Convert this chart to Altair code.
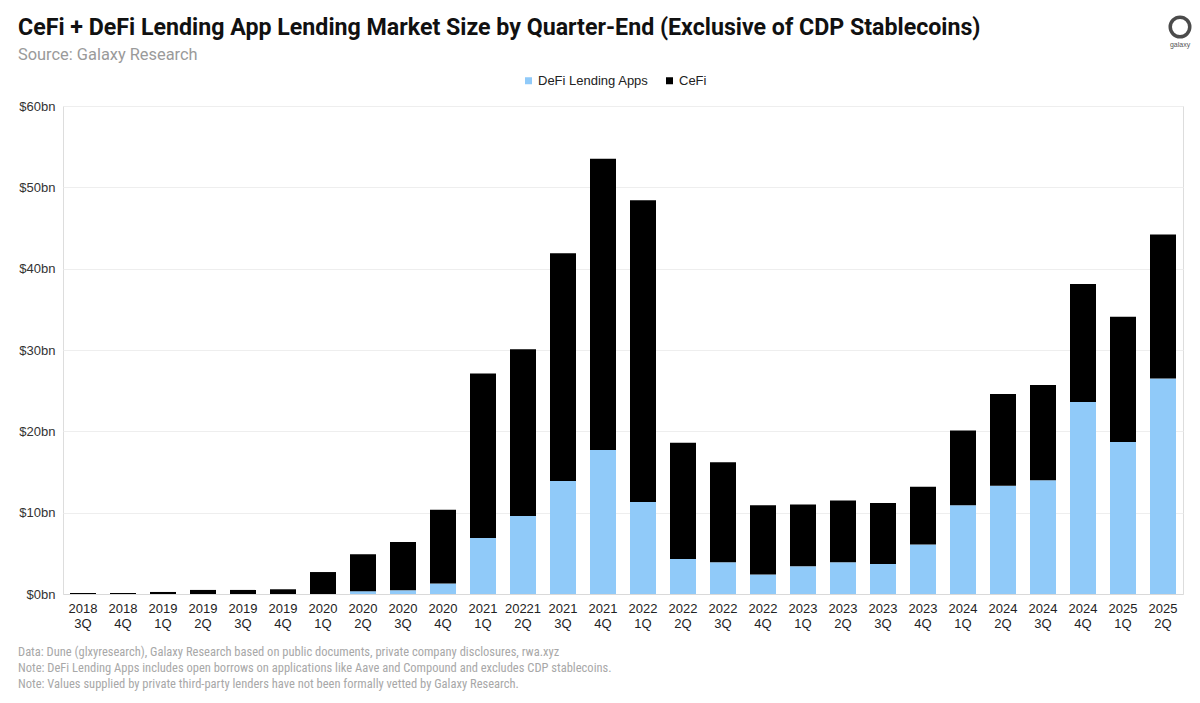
import altair as alt
import pandas as pd

# ---- data ----
quarters = [
    "2018 3Q", "2018 4Q", "2019 1Q", "2019 2Q", "2019 3Q", "2019 4Q",
    "2020 1Q", "2020 2Q", "2020 3Q", "2020 4Q", "2021 1Q", "20221 2Q",
    "2021 3Q", "2021 4Q", "2022 1Q", "2022 2Q", "2022 3Q", "2022 4Q",
    "2023 1Q", "2023 2Q", "2023 3Q", "2023 4Q", "2024 1Q", "2024 2Q",
    "2024 3Q", "2024 4Q", "2025 1Q", "2025 2Q",
]
defi = [
    0.0, 0.0, 0.0, 0.0, 0.0, 0.0,
    0.0, 0.35, 0.45, 1.3, 6.9, 9.6,
    13.9, 17.7, 11.3, 4.3, 3.9, 2.4,
    3.4, 3.9, 3.7, 6.1, 10.9, 13.3,
    14.0, 23.6, 18.7, 26.5,
]
cefi = [
    0.12, 0.12, 0.25, 0.5, 0.5, 0.58,
    2.7, 4.55, 5.95, 9.05, 20.2, 20.5,
    28.0, 35.8, 37.1, 14.3, 12.3, 8.5,
    7.6, 7.6, 7.5, 7.1, 9.2, 11.3,
    11.7, 14.5, 15.4, 17.7,
]
series_names = ["DeFi Lending Apps", "CeFi"]
series_colors = ["#90CAF9", "#000000"]
y_ticks = [0, 10, 20, 30, 40, 50, 60]

title_text = "CeFi + DeFi Lending App Lending Market Size by Quarter-End (Exclusive of CDP Stablecoins)"
subtitle_text = "Source: Galaxy Research"
footer_lines = [
    "Data: Dune (glxyresearch), Galaxy Research based on public documents, private company disclosures, rwa.xyz",
    "Note: DeFi Lending Apps includes open borrows on applications like Aave and Compound and excludes CDP stablecoins.",
    "Note: Values supplied by private third-party lenders have not been formally vetted  by Galaxy Research.",
]

rows = []
for i, q in enumerate(quarters):
    rows.append({"quarter": q, "series": series_names[0], "value": defi[i], "order": 0})
    rows.append({"quarter": q, "series": series_names[1], "value": cefi[i], "order": 1})
df = pd.DataFrame(rows)

AX_FONT = "Liberation Sans, Arial, sans-serif"
TITLE_FONT = "Roboto, Liberation Sans, sans-serif"
NARROW = "Roboto Condensed, Liberation Sans Narrow, DejaVu Sans Condensed, Liberation Sans, sans-serif"

bars = alt.Chart(df).mark_bar().encode(
    x=alt.X(
        "quarter:N",
        sort=quarters,
        scale=alt.Scale(paddingInner=0.35, paddingOuter=0.175),
        axis=alt.Axis(
            title=None, labelAngle=0, labelExpr="split(datum.label, ' ')",
            labelFont=AX_FONT, labelFontSize=13, labelColor="#222222",
            labelLineHeight=15, ticks=False, domainColor="#d9d9d9",
            labelPadding=8, grid=False,
        ),
    ),
    y=alt.Y(
        "value:Q",
        stack="zero",
        scale=alt.Scale(domain=[0, 60], nice=False),
        axis=alt.Axis(
            title=None, values=y_ticks, labelExpr="'$' + datum.value + 'bn'",
            labelFont=AX_FONT, labelFontSize=13, labelColor="#333333",
            ticks=False, domain=False, gridColor="#eeeeee", labelPadding=8,
        ),
    ),
    color=alt.Color(
        "series:N",
        scale=alt.Scale(domain=series_names, range=series_colors),
        legend=alt.Legend(
            orient="none", legendX=459, legendY=-32, direction="horizontal",
            title=None, symbolType="square", symbolSize=49, symbolStrokeWidth=0,
            labelFont=AX_FONT, labelFontSize=13, labelColor="#222222",
            labelOffset=3, columnPadding=14, padding=0,
        ),
    ),
    order=alt.Order("order:Q"),
)

title_layer = alt.Chart(pd.DataFrame({"t": [title_text]})).mark_text(
    align="left", baseline="alphabetic", font=TITLE_FONT, fontSize=23.2,
    fontWeight="bold", color="#111111",
).encode(x=alt.value(-45), y=alt.value(-71), text="t:N")

subtitle_layer = alt.Chart(pd.DataFrame({"t": [subtitle_text]})).mark_text(
    align="left", baseline="alphabetic", font=TITLE_FONT, fontSize=16.4, color="#9a9a9a",
).encode(x=alt.value(-45), y=alt.value(-46), text="t:N")

footer_layers = [
    alt.Chart(pd.DataFrame({"t": [line]})).mark_text(
        align="left", baseline="alphabetic", font=NARROW, fontSize=12.5, color="#a8a8a8",
    ).encode(x=alt.value(-45), y=alt.value(550 + 16 * k), text="t:N")
    for k, line in enumerate(footer_lines)
]

logo_ring = alt.Chart(pd.DataFrame({"t": ["o"]})).mark_point(
    shape="circle", size=380, filled=False, stroke="#000000", strokeWidth=3.5,
).encode(x=alt.value(1117), y=alt.value(-79))
logo_text = alt.Chart(pd.DataFrame({"t": ["galaxy"]})).mark_text(
    align="center", baseline="alphabetic", font=AX_FONT, fontSize=7, color="#555555",
).encode(x=alt.value(1117), y=alt.value(-59), text="t:N")

chart = alt.layer(
    bars, title_layer, subtitle_layer, *footer_layers, logo_ring, logo_text
).properties(
    width=1120, height=488,
    autosize=alt.AutoSizeParams(type="none"),
    padding={"left": 55, "top": 98, "right": 9, "bottom": 100},
).configure_view(stroke=None).configure(background="#ffffff")

chart.save("out.html", embed_options={"renderer": "svg", "actions": False})
